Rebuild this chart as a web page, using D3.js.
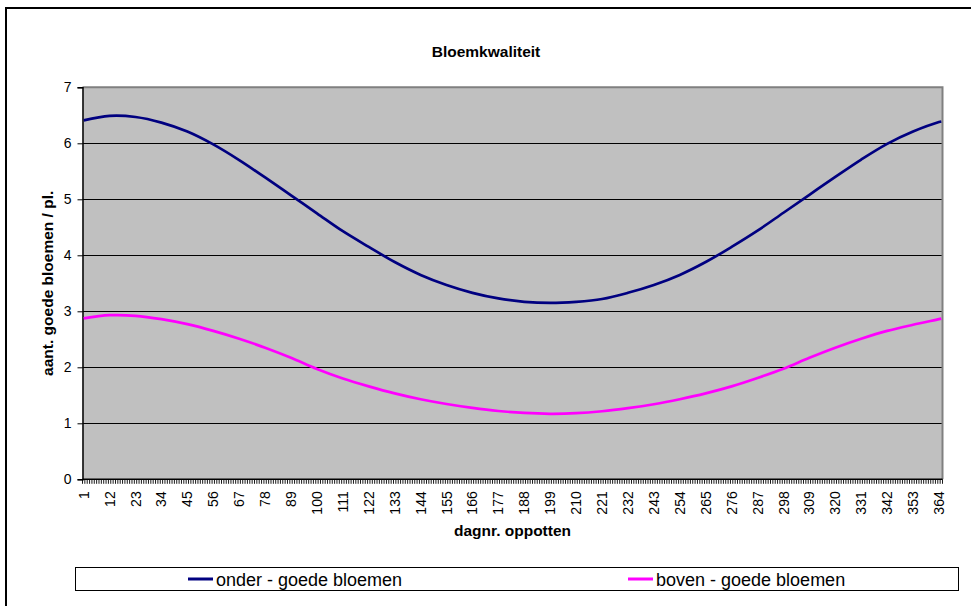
<!DOCTYPE html>
<html>
<head>
<meta charset="utf-8">
<script src="https://cdn.jsdelivr.net/npm/d3@7"></script>
<style>
  html, body { margin: 0; padding: 0; background: #fff; }
  svg { display: block; font-family: Arial, "Liberation Sans", sans-serif; }
</style>
</head>
<body>
<svg id="chart" width="971" height="606"></svg>
<script>
// Day numbers at which the curves are recorded
const sampleDays = [1, 12, 23, 34, 45, 56, 67, 78, 89, 100, 111, 122, 133, 144, 155, 166, 177,
  188, 199, 210, 221, 232, 243, 254, 265, 276, 287, 298, 309, 320, 331, 342, 353, 364, 365];

// Good flowers per plant, lower part of the plant
const onder = [6.41, 6.49, 6.47, 6.37, 6.21, 5.98, 5.70, 5.39, 5.07, 4.75, 4.43, 4.15, 3.88, 3.65, 3.47, 3.33, 3.23,
  3.17, 3.15, 3.17, 3.22, 3.33, 3.47, 3.65, 3.88, 4.15, 4.44, 4.76, 5.08, 5.40, 5.71, 5.99, 6.21, 6.38, 6.39];

// Good flowers per plant, upper part of the plant
const boven = [2.875, 2.93, 2.92, 2.86, 2.77, 2.65, 2.51, 2.35, 2.17, 1.97, 1.80, 1.66, 1.535, 1.43, 1.345, 1.275, 1.22,
  1.185, 1.17, 1.18, 1.215, 1.27, 1.34, 1.43, 1.535, 1.66, 1.81, 1.975, 2.17, 2.35, 2.51, 2.65, 2.76, 2.86, 2.87];

// Category axis: one category per day; every eleventh day is labelled
const firstDay = 1, lastDay = 365;
const xTickLabels = [1, 12, 23, 34, 45, 56, 67, 78, 89, 100, 111, 122, 133, 144, 155, 166, 177,
  188, 199, 210, 221, 232, 243, 254, 265, 276, 287, 298, 309, 320, 331, 342, 353, 364];
const yTickLabels = [0, 1, 2, 3, 4, 5, 6, 7];

const seriesNames = ["onder - goede bloemen", "boven - goede bloemen"];
const seriesColors = ["#000080", "#FF00FF"];

const svg = d3.select("#chart");

// chart area frame
svg.append("rect")
  .attr("x", 6).attr("y", 8).attr("width", 1000).attr("height", 700)
  .attr("fill", "#fff").attr("stroke", "#000").attr("stroke-width", 2);

const plot = { left: 82.5, top: 87.3, right: 942.5, bottom: 479.3 };

const days = d3.range(firstDay, lastDay + 1);
const x = d3.scaleBand().domain(days).range([plot.left, plot.right]).paddingInner(0).paddingOuter(0);
const y = d3.scaleLinear().domain([0, 7]).range([plot.bottom, plot.top]);
const xc = d => x(d) + x.bandwidth() / 2;

// plot background
svg.append("rect")
  .attr("x", plot.left).attr("y", plot.top)
  .attr("width", plot.right - plot.left).attr("height", plot.bottom - plot.top)
  .attr("fill", "#C0C0C0");

// horizontal gridlines
svg.append("g")
  .selectAll("line")
  .data(yTickLabels.filter(v => v > 0 && v < 7))
  .join("line")
  .attr("x1", plot.left).attr("x2", plot.right)
  .attr("y1", d => Math.round(y(d)) + 0.5).attr("y2", d => Math.round(y(d)) + 0.5)
  .attr("stroke", "#000").attr("stroke-width", 1);

// plot border (top and right)
svg.append("path")
  .attr("d", `M${plot.left},${plot.top}H${plot.right}V${plot.bottom}`)
  .attr("fill", "none").attr("stroke", "#808080").attr("stroke-width", 2);

// y axis
const yAxis = svg.append("g")
  .attr("transform", `translate(${plot.left},0)`)
  .call(d3.axisLeft(y).tickValues(yTickLabels).tickSize(5).tickPadding(6).tickFormat(d3.format("d")));
yAxis.select(".domain").attr("stroke", "#000").attr("stroke-width", 1.5);
yAxis.selectAll(".tick line").attr("stroke", "#000");
yAxis.selectAll(".tick text")
  .attr("font-size", 14).attr("fill", "#000")
  .attr("font-family", "Arial, 'Liberation Sans', sans-serif");

// x axis: tick marks between every category, labels every eleventh day
const xAxisG = svg.append("g").attr("transform", `translate(0,${plot.bottom})`);
xAxisG.append("g")
  .selectAll("line")
  .data(d3.range(firstDay, lastDay + 2))
  .join("line")
  .attr("x1", d => d <= lastDay ? x(d) : plot.right)
  .attr("x2", d => d <= lastDay ? x(d) : plot.right)
  .attr("y1", 0).attr("y2", 4.5)
  .attr("stroke", "#000").attr("stroke-width", 0.9);
xAxisG.append("line")
  .attr("x1", plot.left).attr("x2", plot.right).attr("y1", 0).attr("y2", 0)
  .attr("stroke", "#000").attr("stroke-width", 1.5);
xAxisG.append("g")
  .selectAll("text")
  .data(xTickLabels)
  .join("text")
  .attr("transform", d => `translate(${xc(d)},12) rotate(-90)`)
  .attr("text-anchor", "end")
  .attr("dy", "0.36em")
  .attr("font-size", 14)
  .attr("fill", "#000")
  .text(d => d);

// series lines
const line = d3.line()
  .x((d, i) => xc(sampleDays[i]))
  .y(d => y(d))
  .curve(d3.curveCatmullRom.alpha(0.5));

[onder, boven].forEach((vals, k) => {
  svg.append("path")
    .datum(vals)
    .attr("d", line)
    .attr("fill", "none")
    .attr("stroke", seriesColors[k])
    .attr("stroke-width", 2.7)
    .attr("stroke-linejoin", "round");
});

// titles
svg.append("text")
  .attr("x", 486).attr("y", 57)
  .attr("text-anchor", "middle")
  .attr("font-size", 15.5).attr("font-weight", "bold")
  .text("Bloemkwaliteit");

svg.append("text")
  .attr("x", (plot.left + plot.right) / 2).attr("y", 536)
  .attr("text-anchor", "middle")
  .attr("font-size", 15.5).attr("font-weight", "bold")
  .text("dagnr. oppotten");

svg.append("text")
  .attr("transform", `translate(53,${(plot.top + plot.bottom) / 2}) rotate(-90)`)
  .attr("text-anchor", "middle")
  .attr("font-size", 15.5).attr("font-weight", "bold")
  .text("aant. goede bloemen / pl.");

// legend
const legend = svg.append("g");
legend.append("rect")
  .attr("x", 75.5).attr("y", 567.5).attr("width", 883).attr("height", 23)
  .attr("fill", "#fff").attr("stroke", "#000").attr("stroke-width", 1);
const legendX = [188, 628];
seriesNames.forEach((name, k) => {
  legend.append("line")
    .attr("x1", legendX[k]).attr("x2", legendX[k] + 25)
    .attr("y1", 579).attr("y2", 579)
    .attr("stroke", seriesColors[k]).attr("stroke-width", 3);
  legend.append("text")
    .attr("x", legendX[k] + 28).attr("y", 585.5)
    .attr("font-size", 18)
    .attr("fill", "#000")
    .text(name);
});
</script>
</body>
</html>
